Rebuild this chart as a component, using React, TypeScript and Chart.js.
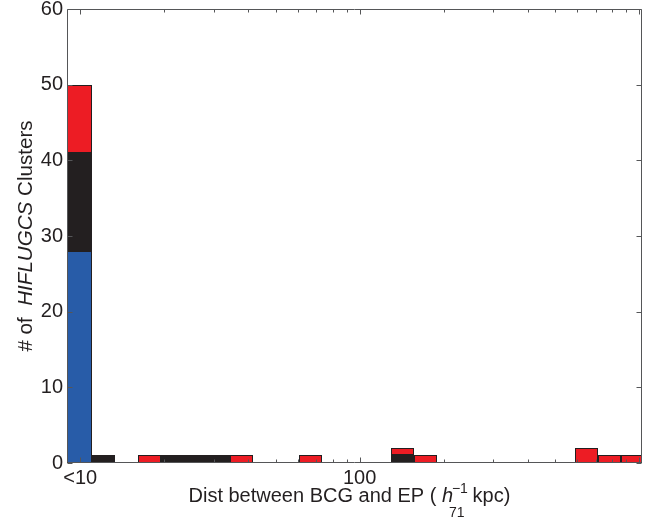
import React, { useEffect, useRef } from 'react';
import { Chart, registerables } from 'chart.js';

Chart.register(...registerables);

// ---- data ----
// Histogram bin edges in kpc (log-spaced). First value = left end of the axis ("<10" bin).
const binEdges = [
  8.968, 10.99, 13.29, 16.06, 19.41, 23.47, 28.36, 34.28, 41.44, 50.09, 60.54, 73.18, 88.45,
  106.9, 129.2, 156.2, 188.8, 228.2, 275.8, 333.4, 402.9, 487.0, 588.7, 711.5, 860.1, 1039.5,
];
const xAxisMax = 1025;

// counts per bin (index 0 = "<10" bin)
const blueCounts = [28, 0, 0, 0, 0, 0, 0, 0, 0, 0, 0, 0, 0, 0, 0, 0, 0, 0, 0, 0, 0, 0, 0, 0, 0];
const blackCounts = [13, 1, 0, 0, 1, 1, 1, 0, 0, 0, 0, 0, 0, 0, 1, 0, 0, 0, 0, 0, 0, 0, 0, 0, 0];
const redCounts = [9, 0, 0, 1, 0, 0, 0, 1, 0, 0, 1, 0, 0, 0, 1, 1, 0, 0, 0, 0, 0, 0, 2, 1, 1];

// axis ticks
const xLabelValues = [10, 100];
const xLabelTexts = ['<10', '100'];
const xMajorMarks = [10, 100, 1000];
const xMinorMarks = [20, 30, 40, 50, 60, 70, 80, 90, 200, 300, 400, 500, 600, 700, 800, 900];
const yMin = 0;
const yMax = 60;
const yStep = 10;

// titles
const xTitleLead = 'Dist between BCG and EP ( ';
const xTitleVar = 'h';
const xTitleSup = '\u22121';
const xTitleSub = '71';
const xTitleTail = ' kpc)';
const yTitleLead = '# of  ';
const yTitleItalic = 'HIFLUGCS';
const yTitleTail = ' Clusters';

// ---- styles ----
const FONT = '"Liberation Sans", Arial, Helvetica, sans-serif';
const C_BLUE = '#285ca8';
const C_BLACK = '#231f20';
const C_RED = '#ed1c24';
const C_EDGE = '#231f20';
const C_FRAME = '#555658';
const C_TEXT = '#231f20';

const W = 651;
const H = 518;

// snap bar rectangles (computed by the scales) to whole pixels so 1px edges stay crisp
const snapPlugin = {
  id: 'snapBars',
  afterDatasetsUpdate(chart: any) {
    chart.data.datasets.forEach((_: any, di: number) => {
      const meta = chart.getDatasetMeta(di);
      meta.data.forEach((el: any) => {
        const l = Math.round(el.x - el.width / 2);
        const r = Math.round(el.x + el.width / 2);
        el.x = (l + r) / 2;
        el.width = r - l;
        el.y = Math.round(el.y);
        el.base = Math.round(el.base);
        el.height = el.base - el.y;
      });
    });
  },
};

const decorPlugin = {
  id: 'decor',
  afterDraw(chart: any) {
    const { ctx, chartArea: a, scales } = chart;
    const xs = scales.x;
    const ys = scales.y;
    ctx.save();
    ctx.strokeStyle = C_FRAME;
    ctx.lineWidth = 1;
    const L = Math.round(a.left) + 0.5;
    const R = Math.round(a.right) - 0.5;
    const T = Math.round(a.top) + 0.5;
    const B = Math.round(a.bottom) - 0.5;
    ctx.beginPath();
    ctx.rect(L, T, R - L, B - T);
    const mark = (v: number, len: number) => {
      const px = Math.round(xs.getPixelForValue(v)) + 0.5;
      if (px < L || px > R + 0.01) return;
      ctx.moveTo(px, B);
      ctx.lineTo(px, B - len);
      ctx.moveTo(px, T);
      ctx.lineTo(px, T + len);
    };
    xMajorMarks.forEach((v) => mark(v, 5));
    xMinorMarks.forEach((v) => mark(v, 3));
    for (let v = yMin; v <= yMax; v += yStep) {
      const py = Math.round(ys.getPixelForValue(v)) + 0.5;
      ctx.moveTo(L, py);
      ctx.lineTo(L + 5, py);
      ctx.moveTo(R, py);
      ctx.lineTo(R - 5, py);
    }
    ctx.stroke();

    // ---- x title ----
    const fMain = `20px ${FONT}`;
    const fItal = `italic 20px ${FONT}`;
    const fSmall = `14px ${FONT}`;
    const fY = `20.6px ${FONT}`;
    const fYItal = `italic 20.6px ${FONT}`;
    ctx.fillStyle = C_TEXT;
    ctx.textBaseline = 'alphabetic';
    ctx.textAlign = 'left';
    ctx.font = fMain;
    const wLead = ctx.measureText(xTitleLead).width;
    const cx = (a.left + a.right) / 2;
    const base = 502;
    let x = cx - 166;
    ctx.fillText(xTitleLead, x, base);
    x += wLead;
    const hStart = x;
    ctx.font = fItal;
    ctx.fillText(xTitleVar, hStart, base);
    ctx.font = fSmall;
    ctx.fillText(xTitleSup, hStart + 10, base - 9);
    ctx.fillText(xTitleSub, hStart + 7, base + 15);
    ctx.font = fMain;
    ctx.fillText(xTitleTail, hStart + 25, base);

    // ---- y title (rotated) ----
    ctx.font = fY;
    const w1 = ctx.measureText(yTitleLead).width;
    const w3 = ctx.measureText(yTitleTail).width;
    ctx.font = fYItal;
    const w2 = ctx.measureText(yTitleItalic).width;
    const ytot = w1 + w2 + w3;
    const cy = (a.top + a.bottom) / 2;
    ctx.translate(32, cy);
    ctx.rotate(-Math.PI / 2);
    let t = -ytot / 2;
    ctx.font = fY;
    ctx.fillText(yTitleLead, t, 0);
    t += w1;
    ctx.font = fYItal;
    ctx.fillText(yTitleItalic, t, 0);
    t += w2;
    ctx.font = fY;
    ctx.fillText(yTitleTail, t, 0);
    ctx.restore();
  },
};

export default function App() {
  const ref = useRef<HTMLCanvasElement | null>(null);

  useEffect(() => {
    if (!ref.current) return;
    const centers = binEdges.slice(0, -1).map((e, i) => Math.sqrt(e * binEdges[i + 1]));
    const logW = (i: number) => Math.log10(binEdges[i + 1] / binEdges[i]);
    const firstRatio = logW(0) / logW(1);

    const series = [
      { name: 'blue', counts: blueCounts, color: C_BLUE },
      { name: 'black', counts: blackCounts, color: C_BLACK },
      { name: 'red', counts: redCounts, color: C_RED },
    ];
    const common = {
      borderColor: C_EDGE,
      borderWidth: 1,
      borderSkipped: false,
      inflateAmount: 0,
      categoryPercentage: 1,
      clip: 0,
    };
    const datasets: any[] = [];
    series.forEach((s) => {
      datasets.push({
        ...common,
        label: s.name + ' <10',
        backgroundColor: s.color,
        barPercentage: firstRatio,
        data: s.counts[0] > 0 ? [{ x: centers[0], y: s.counts[0] }] : [],
      });
      datasets.push({
        ...common,
        label: s.name,
        backgroundColor: s.color,
        barPercentage: 1,
        data: centers
          .slice(1)
          .map((c, j) => ({ x: c, y: s.counts[j + 1] }))
          .filter((p) => p.y > 0),
      });
    });

    const chart = new Chart(ref.current, {
      type: 'bar',
      data: { datasets },
      plugins: [snapPlugin, decorPlugin],
      options: {
        animation: false,
        responsive: false,
        devicePixelRatio: 1,
        layout: { padding: { left: 0, right: 9, top: 9, bottom: 0 } },
        plugins: { legend: { display: false }, tooltip: { enabled: false } },
        scales: {
          x: {
            type: 'logarithmic',
            min: binEdges[0],
            max: xAxisMax,
            stacked: true,
            offset: false,
            grid: { display: false, drawTicks: false, offset: false },
            border: { display: false },
            afterBuildTicks: (scale: any) => {
              scale.ticks = xLabelValues.map((v) => ({ value: v }));
            },
            afterFit: (scale: any) => {
              scale.height = 55;
              scale.paddingLeft = 0;
              scale.paddingRight = 0;
            },
            ticks: {
              autoSkip: false,
              maxRotation: 0,
              minRotation: 0,
              padding: 3,
              color: C_TEXT,
              font: { family: FONT, size: 20 },
              callback: (v: any) => {
                const i = xLabelValues.indexOf(Number(v));
                return i >= 0 ? xLabelTexts[i] : '';
              },
            },
          },
          y: {
            type: 'linear',
            min: yMin,
            max: yMax,
            stacked: true,
            grid: { display: false, drawTicks: false },
            border: { display: false },
            afterFit: (scale: any) => {
              scale.width = 67;
              scale.paddingTop = 0;
              scale.paddingBottom = 0;
            },
            ticks: {
              stepSize: yStep,
              padding: 4,
              color: C_TEXT,
              font: { family: FONT, size: 20 },
            },
          },
        },
      } as any,
    });
    return () => chart.destroy();
  }, []);

  return (
    <div style={{ position: 'fixed', left: 0, top: 0, width: W, height: H, background: '#fff' }}>
      <canvas ref={ref} width={W} height={H} style={{ display: 'block', width: W, height: H }} />
    </div>
  );
}
